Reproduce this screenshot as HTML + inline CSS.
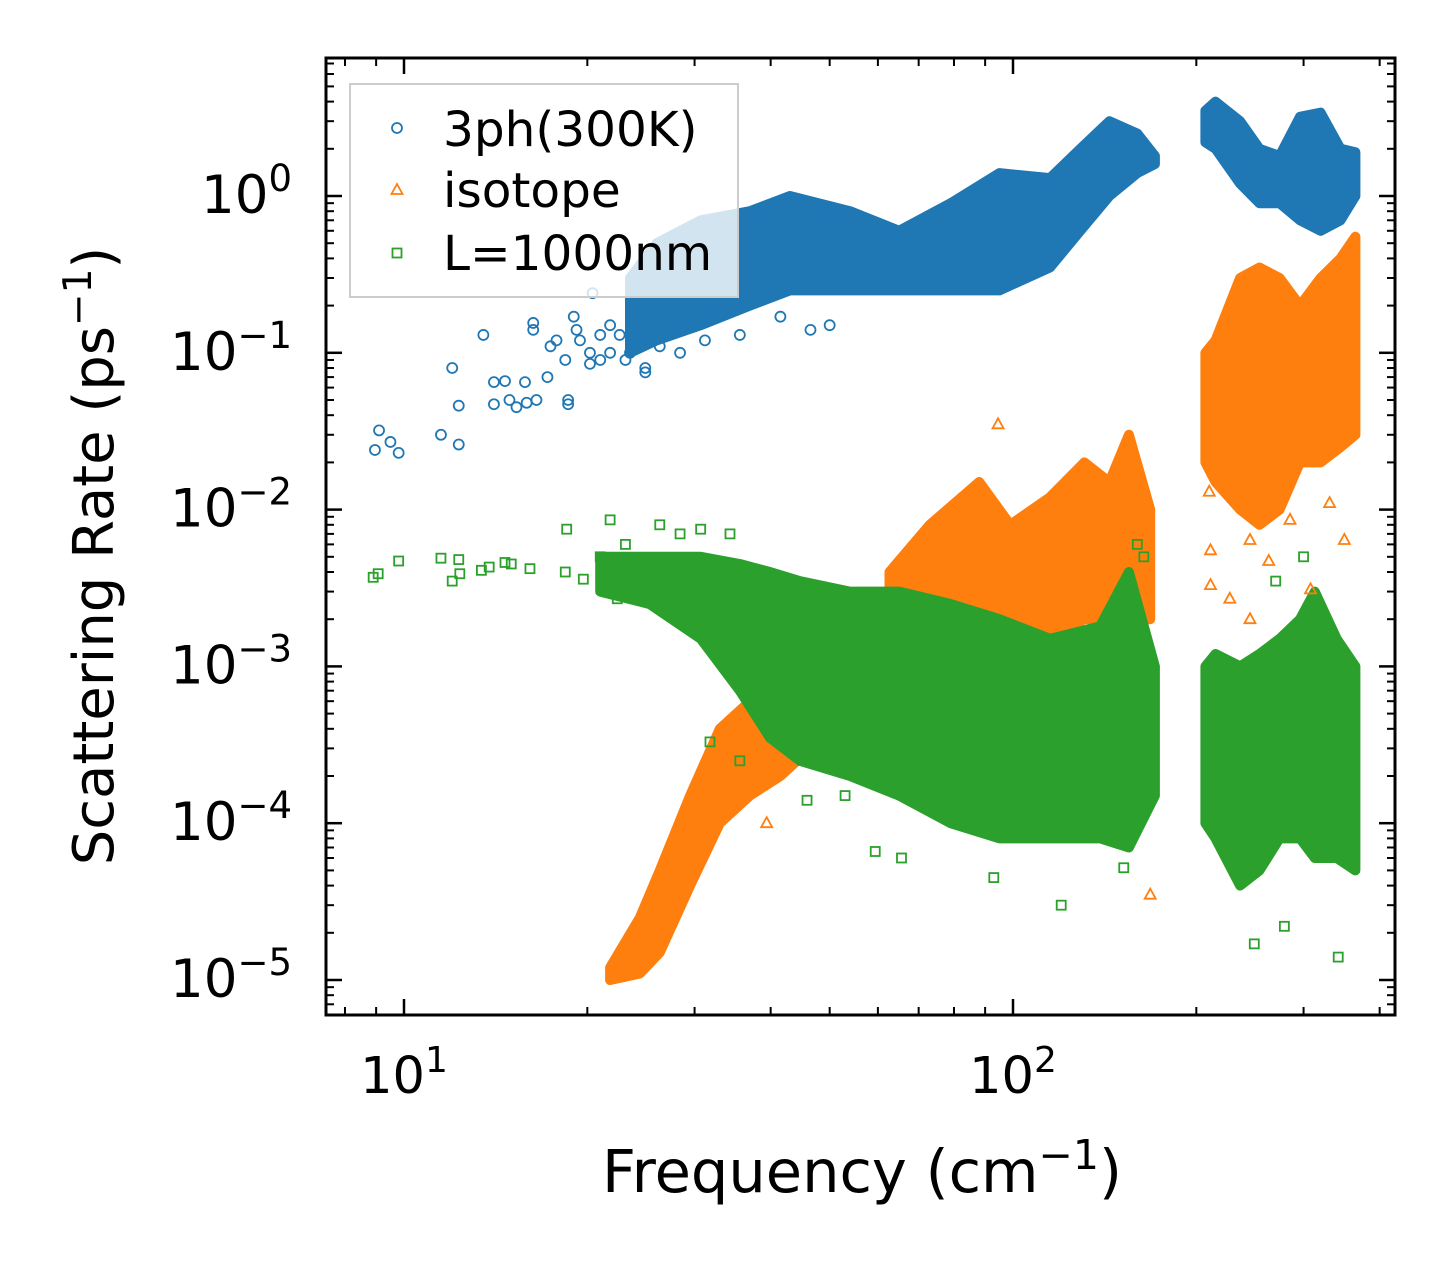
<!DOCTYPE html>
<html><head><meta charset="utf-8"><style>
html,body{margin:0;padding:0;background:#fff}
svg{display:block;font-family:"DejaVu Sans","Liberation Sans",sans-serif}
</style></head><body>
<svg id="chart" width="1455" height="1265" viewBox="0 0 1455 1265" xmlns="http://www.w3.org/2000/svg" style="position:absolute;left:0;top:0">
<rect width="1455" height="1265" fill="#fff"/>
<g id="bands"></g>
<g id="points"></g>
<g id="axes"></g>
</svg>
<script>
// ---- data ----
const xTicks = [10, 100];
const yTicks = [0, -1, -2, -3, -4, -5];
// blue 3ph bands: freq, lower, upper
const blueF1 = [23.5,26,30.7,37,43,54,65,79,95,115,129,144,160,171];
const blueLo1 = [0.1,0.12,0.15,0.2,0.25,0.25,0.25,0.25,0.25,0.35,0.6,1.0,1.4,1.6];
const blueHi1 = [0.3,0.5,0.7,0.8,1.0,0.8,0.6,0.9,1.4,1.3,2.0,3.0,2.5,1.8];
const blueF2 = [207,215,236,254,274,296,320,345,365];
const blueLo2 = [2.2,2.0,1.2,0.9,0.9,0.7,0.6,0.7,1.0];
const blueHi2 = [3.5,4.0,3.0,2.0,1.8,3.2,3.4,2.0,1.9];
const blueSparseF = [8.96,9.1,9.5,9.8,11.5,12.0,12.3,12.3,13.5,14.05,14.05,14.65,14.9,15.3,15.8,15.9,16.5,16.3,16.3,17.2,17.4,17.8,18.4,18.6,18.6,19.0,19.2,19.45,20.2,20.2,20.4,21.0,21.0,21.8,21.8,22.6,23.1,23.5,24.9,24.9,26.3,28.4,31.2,35.6,41.5,46.5,50];
const blueSparseR = [0.024,0.032,0.027,0.023,0.03,0.08,0.026,0.046,0.13,0.065,0.047,0.066,0.05,0.045,0.065,0.048,0.05,0.155,0.14,0.07,0.11,0.12,0.09,0.05,0.047,0.17,0.14,0.12,0.1,0.085,0.24,0.13,0.09,0.15,0.1,0.13,0.09,0.1,0.08,0.075,0.11,0.1,0.12,0.13,0.17,0.14,0.15];
// orange isotope bands
const orF1 = [21.8,24.4,26.3,29.5,33,37,41.5,46.5];
const orLo1 = [1e-5,1.1e-5,1.5e-5,4e-5,1e-4,1.5e-4,2e-4,3e-4];
const orHi1 = [1.2e-5,2.5e-5,5e-5,1.5e-4,4e-4,6e-4,8e-4,7e-4];
const orF2 = [62.7,73,88,99,115,131,144,155,168];
const orLo2 = [1.5e-3,2e-3,2e-3,1.5e-3,1.5e-3,2e-3,2e-3,2e-3,2e-3];
const orHi2 = [4e-3,8e-3,1.5e-2,8e-3,1.2e-2,2e-2,1.5e-2,3e-2,1e-2];
const orF3 = [207,215,236,254,274,296,320,345,365];
const orLo3 = [0.02,0.015,0.01,0.008,0.01,0.02,0.02,0.025,0.03];
const orHi3 = [0.1,0.12,0.3,0.35,0.3,0.2,0.3,0.4,0.55];
const orSparseF = [94.5,168,211,211,227,245,263,285,308,331,350,245,210,39.4];
const orSparseR = [0.035,3.5e-5,5.5e-3,3.3e-3,2.7e-3,6.4e-3,4.7e-3,8.6e-3,3.1e-3,1.1e-2,6.4e-3,2e-3,1.3e-2,1e-4];
// green boundary bands
const grF1 = [21,25.3,30.7,35.6,39.9,44.7,54,65,79,95,115,139,155,171];
const grLo1 = [3e-3,2.5e-3,1.5e-3,7e-4,3.5e-4,2.5e-4,2e-4,1.5e-4,1e-4,8e-5,8e-5,8e-5,7e-5,1.5e-4];
const grHi1 = [5e-3,5e-3,5e-3,4.5e-3,4e-3,3.5e-3,3e-3,3e-3,2.5e-3,2e-3,1.5e-3,1.8e-3,4e-3,1e-3];
const grF2 = [207,215,236,254,274,296,313,340,365];
const grLo2 = [1e-4,8e-5,4e-5,5e-5,8e-5,8e-5,6e-5,6e-5,5e-5];
const grHi2 = [1e-3,1.2e-3,1e-3,1.2e-3,1.5e-3,2e-3,3e-3,1.5e-3,1e-3];
const grSparseF = [8.9,9.07,9.8,11.5,12.0,12.3,12.35,13.4,13.8,14.65,15.0,16.1,18.5,18.4,19.7,21.0,21.8,23.1,22.4,26.3,28.4,30.7,34.3,31.8,35.6,45.9,53,59.4,65.6,93,120,152,249,279,342,160,164,300,270];
const grSparseR = [3.7e-3,3.9e-3,4.7e-3,4.9e-3,3.5e-3,4.8e-3,3.9e-3,4.1e-3,4.3e-3,4.6e-3,4.5e-3,4.2e-3,7.5e-3,4e-3,3.6e-3,5e-3,8.6e-3,6e-3,2.7e-3,8e-3,7e-3,7.5e-3,7e-3,3.3e-4,2.5e-4,1.4e-4,1.5e-4,6.6e-5,6e-5,4.5e-5,3e-5,5.2e-5,1.7e-5,2.2e-5,1.4e-5,6e-3,5e-3,5e-3,3.5e-3];

// ---- axes functions ----
const L=326,R=1395,T=58,B=1015;
const X = f => 404 + (Math.log10(f)-1)*609;
const Y = r => 196 - Math.log10(r)*156.8;
const NS="http://www.w3.org/2000/svg";
function mk(tag, attrs, parent){const e=document.createElementNS(NS,tag);for(const k in attrs)e.setAttribute(k,attrs[k]);parent.appendChild(e);return e;}
const bands=document.getElementById('bands'), pts=document.getElementById('points'), ax=document.getElementById('axes');
const C={b:'#1f77b4',o:'#ff7f0e',g:'#2ca02c'};

function band(F,Lo,Hi,col,name){
  let d='M'+F.map((f,i)=>X(f).toFixed(1)+','+Y(Hi[i]).toFixed(1)).join(' L');
  for(let i=F.length-1;i>=0;i--) d+=' L'+X(F[i]).toFixed(1)+','+Y(Lo[i]).toFixed(1);
  d+='Z';
  const p=mk('path',{d:d,fill:col,stroke:col,'stroke-width':10,'stroke-linejoin':'round'},bands);
  
  
}
function marker(kind,x,y,col,parent){
  let e;
  if(kind==='c') e=mk('circle',{cx:x,cy:y,r:5,fill:'none',stroke:col,'stroke-width':1.8},parent);
  else if(kind==='t') e=mk('path',{d:`M${x},${y-6} L${x+5.5},${y+4} L${x-5.5},${y+4}Z`,fill:'none',stroke:col,'stroke-width':1.8},parent);
  else e=mk('rect',{x:x-4.5,y:y-4.5,width:9,height:9,fill:'none',stroke:col,'stroke-width':1.8},parent);
  return e;
}
function sparse(F,Rr,kind,col,name){
  F.forEach((f,i)=>{const e=marker(kind,X(f),Y(Rr[i]),col,pts);
    
    });
}
band(blueF1,blueLo1,blueHi1,C.b,'3ph-band-low');
band(blueF2,blueLo2,blueHi2,C.b,'3ph-band-high');
sparse(blueSparseF,blueSparseR,'c',C.b,'3ph-point');
band(orF1,orLo1,orHi1,C.o,'isotope-band-low');
band(orF2,orLo2,orHi2,C.o,'isotope-band-mid');
band(orF3,orLo3,orHi3,C.o,'isotope-band-high');
sparse(orSparseF,orSparseR,'t',C.o,'isotope-point');
band(grF1,grLo1,grHi1,C.g,'boundary-band-low');
band(grF2,grLo2,grHi2,C.g,'boundary-band-high');
sparse(grSparseF,grSparseR,'s',C.g,'boundary-point');

// ---- frame and ticks ----
const fr=mk('rect',{x:L,y:T,width:R-L,height:B-T,fill:'none',stroke:'#000','stroke-width':3},ax);


function tick(x1,y1,x2,y2,w){mk('line',{x1,y1,x2,y2,stroke:'#000','stroke-width':w},ax);}
for(let dec=0;dec<=2;dec++){for(let m=1;m<=9;m++){const f=m*Math.pow(10,dec);const x=X(f);if(x<L||x>R)continue;
  const len=m===1?16:8, w=m===1?2.5:2;tick(x,B,x,B-len,w);tick(x,T,x,T+len,w);}}
xTicks.forEach(v=>{const t=mk('text',{x:X(v),y:1093,'font-size':51,'text-anchor':'middle'},ax);
  t.innerHTML='10<tspan dy="-21" font-size="36">'+Math.round(Math.log10(v))+'</tspan>';
  
  });
for(let dec=-6;dec<=0;dec++){for(let m=1;m<=9;m++){const r=m*Math.pow(10,dec);const y=Y(r);if(y<T||y>B)continue;
  const len=m===1?16:8, w=m===1?2.5:2;tick(L,y,L+len,y,w);tick(R,y,R-len,y,w);}}
yTicks.forEach(v=>{const t=mk('text',{x:292,y:Y(Math.pow(10,v))+17,'font-size':53,'text-anchor':'end'},ax);
  t.innerHTML='10<tspan dy="-22" font-size="37">'+(v<0?'\u2212'+(-v):v)+'</tspan>';
  
  });
</script>
<svg style="position:absolute;left:0;top:0" width="1455" height="1265">
<text x="862" y="1192" font-size="59" text-anchor="middle" font-family="DejaVu Sans,Liberation Sans,sans-serif">Frequency (cm<tspan dy="-23" font-size="41">−1</tspan><tspan dy="23">)</tspan></text>
<text transform="translate(113,556) rotate(-90)" font-size="56" text-anchor="middle" font-family="DejaVu Sans,Liberation Sans,sans-serif">Scattering Rate (ps<tspan dy="-22" font-size="39">−1</tspan><tspan dy="22">)</tspan></text>
<g>
<rect x="350" y="84" width="388" height="213" fill="#fff" fill-opacity="0.8" stroke="#ccc" stroke-width="2"/>
<circle cx="397" cy="128" r="5" fill="none" stroke="#1f77b4" stroke-width="1.8"/>
<text x="443" y="146" font-size="48.5" font-family="DejaVu Sans,Liberation Sans,sans-serif">3ph(300K)</text>
<path d="M397,184 L402.5,194 L391.5,194Z" fill="none" stroke="#ff7f0e" stroke-width="1.8"/>
<text x="443" y="207" font-size="48.5" font-family="DejaVu Sans,Liberation Sans,sans-serif">isotope</text>
<rect x="392.5" y="248.5" width="9" height="9" fill="none" stroke="#2ca02c" stroke-width="1.8"/>
<text x="443" y="270" font-size="48.5" font-family="DejaVu Sans,Liberation Sans,sans-serif">L=1000nm</text>
</g>
</svg>
</body></html>
